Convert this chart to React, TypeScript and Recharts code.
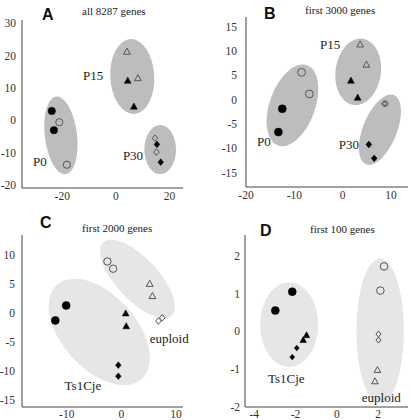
import React from 'react';
import { ScatterChart, Scatter, XAxis, YAxis, ReferenceArea } from 'recharts';

type Pt = { x: number; y: number };
type Ell = { x: number; y: number; rx: number; ry: number; angle: number };
type Lbl = { x: number; y: number; text: string };

// Panel A: all 8287 genes
const aFilledCircle: Pt[] = [{ x: -23.9, y: 2.85 }, { x: -23.1, y: -3.1 }];
const aOpenCircle: Pt[] = [{ x: -21.1, y: -0.65 }, { x: -18.3, y: -13.8 }];
const aOpenTri: Pt[] = [{ x: 4.1, y: 21.2 }, { x: 8.2, y: 13.0 }];
const aFilledTri: Pt[] = [{ x: 4.4, y: 12.2 }, { x: 6.7, y: 4.2 }];
const aOpenDia: Pt[] = [{ x: 14.6, y: -5.6 }, { x: 15.1, y: -9.9 }];
const aFilledDia: Pt[] = [{ x: 15.3, y: -7.5 }, { x: 16.7, y: -13.0 }];
const aEllipses: Ell[] = [
  { x: -20.5, y: -4.7, rx: 6.0, ry: 12.1, angle: -7 },
  { x: 6.1, y: 13.5, rx: 8.2, ry: 11.6, angle: -3 },
  { x: 16.5, y: -9.1, rx: 5.9, ry: 7.6, angle: 0 },
];
const aLabels: Lbl[] = [
  { x: -12.3, y: 13.7, text: 'P15' },
  { x: -30.9, y: -12.9, text: 'P0' },
  { x: 2.6, y: -10.8, text: 'P30' },
];
const aXTicks = [-20, 0, 20];
const aYTicks = [-20, -10, 0, 10, 20, 30];

// Panel B: first 3000 genes
const bOpenCircle: Pt[] = [{ x: -8.5, y: 5.6 }, { x: -6.9, y: 1.15 }];
const bFilledCircle: Pt[] = [{ x: -12.5, y: -1.9 }, { x: -13.3, y: -6.7 }];
const bOpenTri: Pt[] = [{ x: 3.6, y: 11.35 }, { x: 4.9, y: 7.2 }];
const bFilledTri: Pt[] = [{ x: 1.7, y: 3.9 }, { x: 3.1, y: 0.4 }];
const bOpenDia: Pt[] = [{ x: 8.55, y: -0.85 }, { x: 8.9, y: -0.85 }];
const bFilledDia: Pt[] = [{ x: 5.4, y: -9.25 }, { x: 6.5, y: -12.1 }];
const bEllipses: Ell[] = [
  { x: -10.4, y: -1.2, rx: 4.7, ry: 8.8, angle: 20 },
  { x: 3.2, y: 5.7, rx: 4.7, ry: 6.9, angle: 8 },
  { x: 7.7, y: -6.2, rx: 3.5, ry: 7.7, angle: 22 },
];
const bLabels: Lbl[] = [
  { x: -4.7, y: 11.4, text: 'P15' },
  { x: -17.7, y: -8.7, text: 'P0' },
  { x: -0.8, y: -9.3, text: 'P30' },
];
const bXTicks = [-20, -10, 0, 10];
const bYTicks = [-15, -10, -5, 0, 5, 10, 15];

// Panel C: first 2000 genes
const cOpenCircle: Pt[] = [{ x: -2.55, y: 8.85 }, { x: -1.5, y: 7.6 }];
const cOpenTri: Pt[] = [{ x: 5.2, y: 5.0 }, { x: 5.7, y: 2.9 }];
const cOpenDia: Pt[] = [{ x: 6.8, y: -1.4 }, { x: 7.5, y: -0.85 }];
const cFilledCircle: Pt[] = [{ x: -10.1, y: 1.27 }, { x: -12.1, y: -1.3 }];
const cFilledTri: Pt[] = [{ x: 0.8, y: -0.1 }, { x: 0.9, y: -2.3 }];
const cFilledDia: Pt[] = [{ x: -0.55, y: -9.0 }, { x: -0.55, y: -10.9 }];
const cEllipses: Ell[] = [
  { x: 2.95, y: 5.85, rx: 3.85, ry: 8.6, angle: -43 },
  { x: -4.05, y: -3.28, rx: 6.8, ry: 10.9, angle: -42 },
];
const cLabels: Lbl[] = [
  { x: 5.2, y: -4.36, text: 'euploid' },
  { x: -10.4, y: -12.5, text: 'Ts1Cje' },
];
const cXTicks = [-10, 0, 10];
const cYTicks = [-15, -10, -5, 0, 5, 10];

// Panel D: first 100 genes
const dFilledCircle: Pt[] = [{ x: -2.16, y: 1.05 }, { x: -2.98, y: 0.55 }];
const dFilledTri: Pt[] = [{ x: -1.47, y: -0.1 }, { x: -1.63, y: -0.23 }];
const dFilledDia: Pt[] = [{ x: -1.94, y: -0.44 }, { x: -2.16, y: -0.68 }];
const dOpenCircle: Pt[] = [{ x: 2.29, y: 1.72 }, { x: 2.11, y: 1.08 }];
const dOpenDia: Pt[] = [{ x: 2.02, y: -0.07 }, { x: 2.02, y: -0.23 }];
const dOpenTri: Pt[] = [{ x: 1.97, y: -1.02 }, { x: 1.85, y: -1.32 }];
const dEllipses: Ell[] = [
  { x: -2.31, y: 0.18, rx: 1.41, ry: 1.12, angle: 0 },
  { x: 2.1, y: 0.01, rx: 1.15, ry: 1.92, angle: 0 },
];
const dLabels: Lbl[] = [
  { x: -3.34, y: -1.24, text: 'Ts1Cje' },
  { x: 1.21, y: -1.75, text: 'euploid' },
];
const dXTicks = [-4, -2, 0, 2];
const dYTicks = [-2, -1, 0, 1, 2];

const SERIF = "'Liberation Serif', 'Times New Roman', Times, serif";
const SANS = "'Liberation Sans', Arial, Helvetica, sans-serif";

type Kind = 'circle' | 'tri' | 'dia';

const makeMarker = (kind: Kind, filled: boolean, s: number) => (p: any) => {
  const cx = p.cx;
  const cy = p.cy;
  if (cx == null || cy == null) return <g />;
  const fill = filled ? '#000' : 'none';
  const stroke = filled ? '#000' : '#555';
  const sw = filled ? 0.5 : 1;
  if (kind === 'circle') {
    return <circle cx={cx} cy={cy} r={s} fill={fill} stroke={stroke} strokeWidth={sw} />;
  }
  if (kind === 'tri') {
    const pts = `${cx},${cy - s * 1.05} ${cx + s},${cy + s * 0.75} ${cx - s},${cy + s * 0.75}`;
    return <polygon points={pts} fill={fill} stroke={stroke} strokeWidth={sw} />;
  }
  const w = s * 0.85;
  const pts = `${cx},${cy - s} ${cx + w},${cy} ${cx},${cy + s} ${cx - w},${cy}`;
  return <polygon points={pts} fill={fill} stroke={stroke} strokeWidth={sw} />;
};

const labelShape = (p: any) => {
  if (p.cx == null) return <g />;
  return (
    <text x={p.cx} y={p.cy} dominantBaseline="central" style={{ fontFamily: SERIF, fontSize: 13 }} fill="#222">
      {p.payload.text}
    </text>
  );
};

const ellipseShape = (angle: number, color: string) => (p: any) => {
  const w = Math.abs(p.width);
  const h = Math.abs(p.height);
  const x = Math.min(p.x, p.x + p.width);
  const y = Math.min(p.y, p.y + p.height);
  const cx = x + w / 2;
  const cy = y + h / 2;
  return (
    <ellipse cx={cx} cy={cy} rx={w / 2} ry={h / 2} fill={color} transform={`rotate(${angle} ${cx} ${cy})`} />
  );
};

const xTickRender = (p: any) => (
  <text
    x={p.x}
    y={p.y}
    dy="0.71em"
    textAnchor="middle"
    style={{ fontFamily: SERIF, fontSize: 11.5 }}
    fill="#333"
  >
    {p.payload.value}
  </text>
);

const yTickRender = (p: any) => (
  <text
    x={p.x}
    y={p.y}
    dy="0.355em"
    textAnchor="end"
    style={{ fontFamily: SERIF, fontSize: 11.5 }}
    fill="#333"
  >
    {p.payload.value}
  </text>
);

type Series = { data: Pt[]; kind: Kind; filled: boolean; size: number };

type PanelProps = {
  left: number;
  top: number;
  width: number;
  height: number;
  margin: { top: number; right: number; bottom: number; left: number };
  yWidth: number;
  xHeight: number;
  xDomain: [number, number];
  yDomain: [number, number];
  xTicks: number[];
  yTicks: number[];
  yTickMargin: number;
  xTickMargin: number;
  ellipses: Ell[];
  ellColor: string;
  series: Series[];
  labels: Lbl[];
};

function Panel(props: PanelProps) {
  return (
    <div style={{ position: 'absolute', left: props.left, top: props.top }}>
      <ScatterChart width={props.width} height={props.height} margin={props.margin}>
        <XAxis
          type="number"
          dataKey="x"
          domain={props.xDomain}
          ticks={props.xTicks}
          height={props.xHeight}
          tickLine={false}
          tickSize={0}
          tickMargin={props.xTickMargin}
          axisLine={{ stroke: '#444', strokeWidth: 1 }}
          tick={xTickRender}
          interval={0}
        />
        <YAxis
          type="number"
          dataKey="y"
          domain={props.yDomain}
          ticks={props.yTicks}
          width={props.yWidth}
          tickLine={false}
          tickSize={0}
          tickMargin={props.yTickMargin}
          axisLine={{ stroke: '#444', strokeWidth: 1 }}
          tick={yTickRender}
          interval={0}
        />
        {props.ellipses.map((e, i) => (
          <ReferenceArea
            key={'e' + i}
            x1={e.x - e.rx}
            x2={e.x + e.rx}
            y1={e.y - e.ry}
            y2={e.y + e.ry}
            ifOverflow="visible"
            shape={ellipseShape(e.angle, props.ellColor)}
          />
        ))}
        {props.series.map((s, i) => (
          <Scatter
            key={'s' + i}
            data={s.data}
            isAnimationActive={false}
            shape={makeMarker(s.kind, s.filled, s.size)}
          />
        ))}
        <Scatter data={props.labels} isAnimationActive={false} shape={labelShape} />
      </ScatterChart>
    </div>
  );
}

export default function App() {
  const darkGray = '#bdbdbd';
  const lightGray = '#e6e6e6';
  const letter = { fontFamily: SANS, fontWeight: 700, fontSize: 16 } as React.CSSProperties;
  const title = { fontFamily: SERIF, fontSize: 11 } as React.CSSProperties;
  return (
    <div style={{ position: 'absolute', left: 0, top: 0, width: 411, height: 420, background: '#fff', overflow: 'hidden' }}>
      <Panel
        left={0}
        top={0}
        width={205}
        height={205}
        margin={{ top: 20, right: 22, bottom: 0, left: 0 }}
        yWidth={22}
        xHeight={17}
        xDomain={[-35, 25]}
        yDomain={[-21, 31]}
        xTicks={aXTicks}
        yTicks={aYTicks}
        yTickMargin={6}
        xTickMargin={4}
        ellipses={aEllipses}
        ellColor={darkGray}
        labels={aLabels}
        series={[
          { data: aFilledCircle, kind: 'circle', filled: true, size: 3.7 },
          { data: aOpenCircle, kind: 'circle', filled: false, size: 3.6 },
          { data: aOpenTri, kind: 'tri', filled: false, size: 3.4 },
          { data: aFilledTri, kind: 'tri', filled: true, size: 3.4 },
          { data: aOpenDia, kind: 'dia', filled: false, size: 3.3 },
          { data: aFilledDia, kind: 'dia', filled: true, size: 3.3 },
        ]}
      />
      <Panel
        left={205}
        top={0}
        width={206}
        height={205}
        margin={{ top: 17, right: 3, bottom: 0, left: 0 }}
        yWidth={41}
        xHeight={18}
        xDomain={[-20, 13.5]}
        yDomain={[-18, 17]}
        xTicks={bXTicks}
        yTicks={bYTicks}
        yTickMargin={9}
        xTickMargin={4}
        ellipses={bEllipses}
        ellColor={darkGray}
        labels={bLabels}
        series={[
          { data: bOpenCircle, kind: 'circle', filled: false, size: 3.9 },
          { data: bFilledCircle, kind: 'circle', filled: true, size: 4 },
          { data: bOpenTri, kind: 'tri', filled: false, size: 3.4 },
          { data: bFilledTri, kind: 'tri', filled: true, size: 3.4 },
          { data: bOpenDia, kind: 'dia', filled: false, size: 3.2 },
          { data: bFilledDia, kind: 'dia', filled: true, size: 3.4 },
        ]}
      />
      <Panel
        left={0}
        top={205}
        width={205}
        height={215}
        margin={{ top: 30, right: 22, bottom: 0, left: 0 }}
        yWidth={22}
        xHeight={13}
        xDomain={[-18.2, 11.3]}
        yDomain={[-16.2, 13.4]}
        xTicks={cXTicks}
        yTicks={cYTicks}
        yTickMargin={7}
        xTickMargin={2.5}
        ellipses={cEllipses}
        ellColor={lightGray}
        labels={cLabels}
        series={[
          { data: cOpenCircle, kind: 'circle', filled: false, size: 3.7 },
          { data: cOpenTri, kind: 'tri', filled: false, size: 3.4 },
          { data: cOpenDia, kind: 'dia', filled: false, size: 3.3 },
          { data: cFilledCircle, kind: 'circle', filled: true, size: 4 },
          { data: cFilledTri, kind: 'tri', filled: true, size: 3.4 },
          { data: cFilledDia, kind: 'dia', filled: true, size: 3.3 },
        ]}
      />
      <Panel
        left={205}
        top={205}
        width={206}
        height={215}
        margin={{ top: 30, right: 3, bottom: 0, left: 0 }}
        yWidth={40}
        xHeight={13}
        xDomain={[-4.45, 3.45]}
        yDomain={[-2, 2.55]}
        xTicks={dXTicks}
        yTicks={dYTicks}
        yTickMargin={5}
        xTickMargin={2.5}
        ellipses={dEllipses}
        ellColor={lightGray}
        labels={dLabels}
        series={[
          { data: dFilledCircle, kind: 'circle', filled: true, size: 4 },
          { data: dFilledTri, kind: 'tri', filled: true, size: 3.3 },
          { data: dFilledDia, kind: 'dia', filled: true, size: 2.9 },
          { data: dOpenCircle, kind: 'circle', filled: false, size: 3.8 },
          { data: dOpenDia, kind: 'dia', filled: false, size: 3.0 },
          { data: dOpenTri, kind: 'tri', filled: false, size: 3.3 },
        ]}
      />
      <svg width={411} height={420} style={{ position: 'absolute', left: 0, top: 0, pointerEvents: 'none' }}>
        <text x={42} y={20} style={letter} fill="#111">A</text>
        <text x={82} y={14.5} style={title} fill="#222">all 8287 genes</text>
        <text x={264} y={18.5} style={letter} fill="#111">B</text>
        <text x={305} y={14} style={title} fill="#222">first 3000 genes</text>
        <text x={40} y={227.5} style={letter} fill="#111">C</text>
        <text x={82} y={232} style={title} fill="#222">first 2000 genes</text>
        <text x={260} y={236} style={letter} fill="#111">D</text>
        <text x={310} y={232.5} style={title} fill="#222">first 100 genes</text>
      </svg>
    </div>
  );
}
